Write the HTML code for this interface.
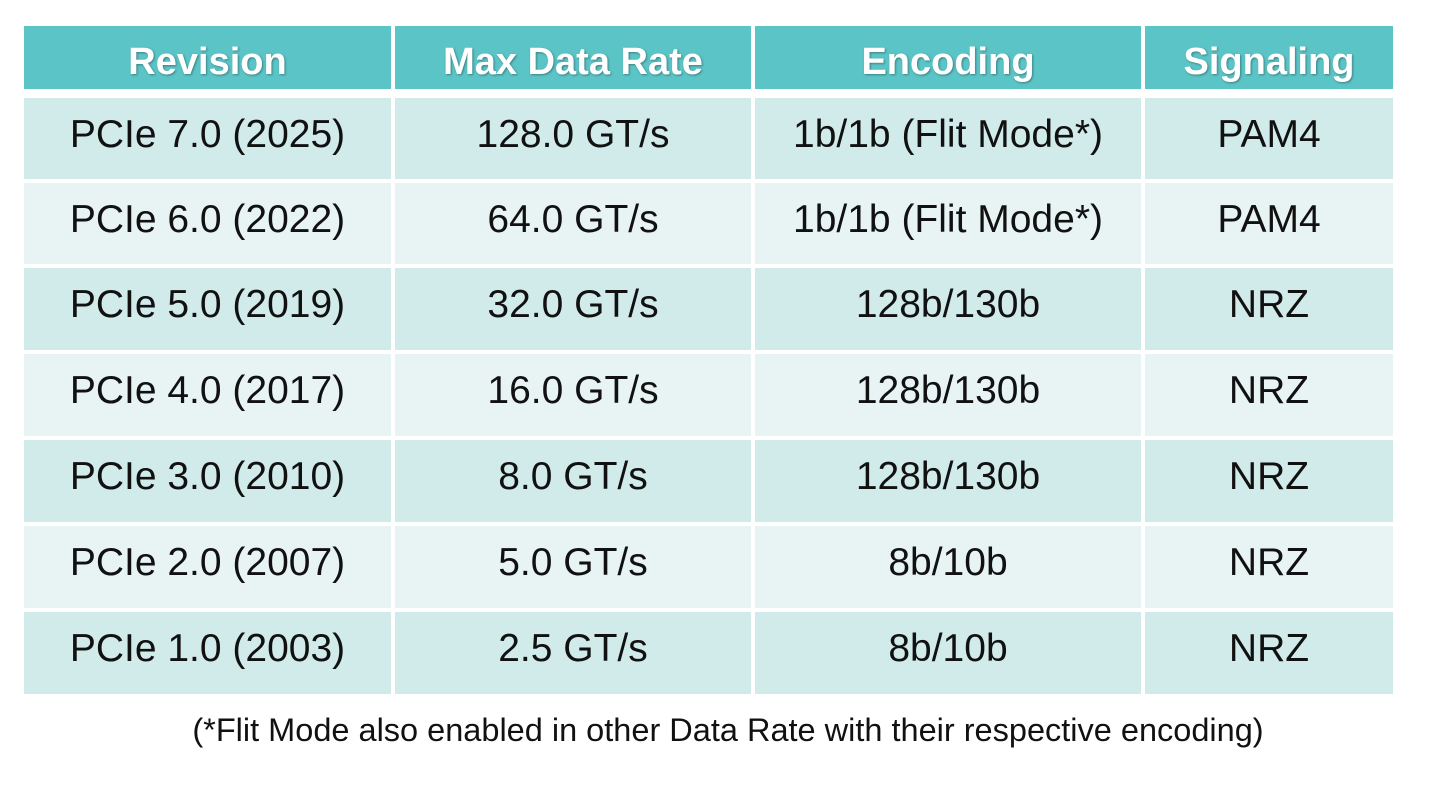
<!DOCTYPE html>
<html><head><style>
body{margin:0;width:1456px;height:791px;background:#fff;position:relative;font-family:"Liberation Sans",Arial,sans-serif;overflow:hidden}
.c{position:absolute;display:flex;align-items:center;justify-content:center;color:#111;font-size:39px}
.h{background:#5BC4C6;color:#fff;font-weight:bold;font-size:38px;text-shadow:1px 1px 2px rgba(0,0,0,0.35)}
.o{background:#D1EAEA}
.e{background:#E8F4F4}
.note{position:absolute;left:0;width:1456px;top:712px;text-align:center;font-size:32.5px;color:#111}
</style></head><body>
<div id="t"></div>
<div class="note">(*Flit Mode also enabled in other Data Rate with their respective encoding)</div>
<script>
var cols=[[24,391],[395,751],[755,1141],[1145,1393]];
var rows=[
["Revision","Max Data Rate","Encoding","Signaling"],
["PCIe 7.0 (2025)","128.0 GT/s","1b/1b (Flit Mode*)","PAM4"],
["PCIe 6.0 (2022)","64.0 GT/s","1b/1b (Flit Mode*)","PAM4"],
["PCIe 5.0 (2019)","32.0 GT/s","128b/130b","NRZ"],
["PCIe 4.0 (2017)","16.0 GT/s","128b/130b","NRZ"],
["PCIe 3.0 (2010)","8.0 GT/s","128b/130b","NRZ"],
["PCIe 2.0 (2007)","5.0 GT/s","8b/10b","NRZ"],
["PCIe 1.0 (2003)","2.5 GT/s","8b/10b","NRZ"]];
var ys=[[26,89],[98,179],[183,264],[268,350],[354,436],[440,522],[526,608],[612,694]];
var h="";
rows.forEach(function(r,i){r.forEach(function(t,j){
var cl=i==0?"h":(i%2?"o":"e");
var pad=i==0?"padding-top:10px;":"padding-bottom:8px;";
h+='<div class="c '+cl+'" style="left:'+cols[j][0]+'px;width:'+(cols[j][1]-cols[j][0])+'px;top:'+ys[i][0]+'px;height:'+(ys[i][1]-ys[i][0])+'px;box-sizing:border-box;'+pad+'">'+t+'</div>';});});
document.getElementById("t").innerHTML=h;
</script>
</body></html>
